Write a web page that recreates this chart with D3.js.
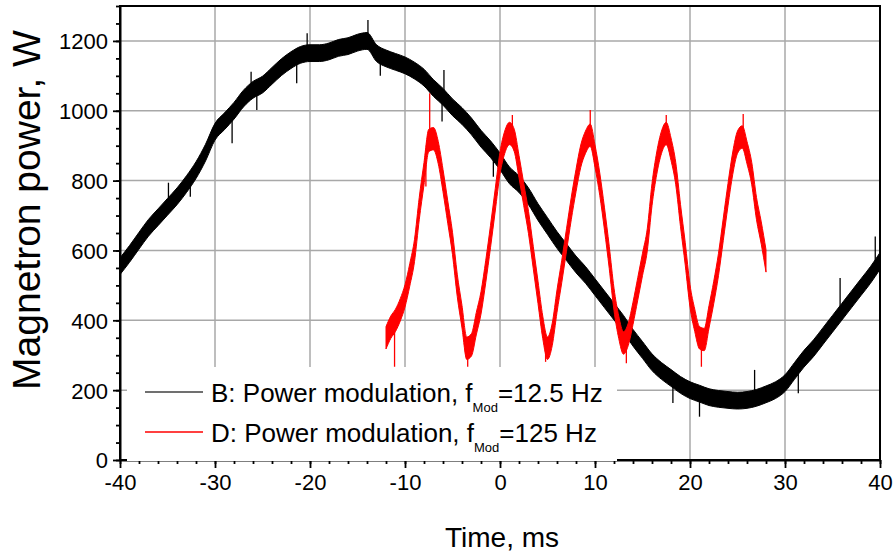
<!DOCTYPE html>
<html lang="en">
<head>
  <meta charset="UTF-8">
  <title></title>
  <style>
    html, body {
      margin: 0;
      overflow: hidden;
      width: 100%;
      height: 100%;
      background: white;
    }
    svg {
      position: absolute;
      top: 0;
      left: 0;
      width: 895px;
      height: 554px;
      font-family: 'Liberation Sans', Arial, sans-serif;
    }
  </style>
</head>
<body>
  <svg></svg>
</body>
<script src="https://cdn.jsdelivr.net/npm/d3@7"></script>
<script type="text/javascript">
  // ---- data ----
  const xTicks = [-40, -30, -20, -10, 0, 10, 20, 30, 40]
  const yTicks = [0, 200, 400, 600, 800, 1000, 1200]

  // B: 12.5 Hz, centre of the noisy trace, one value per ms from -40 ms
  const blackStart = -40, blackStep = 1
  const blackPower = [
    555, 590, 628, 665, 695, 725, 755, 790, 830, 880,
    940, 970, 1000, 1035, 1060, 1075, 1100, 1125, 1145, 1160,
    1165, 1165, 1170, 1180, 1185, 1195, 1200, 1165, 1150, 1140,
    1130, 1115, 1095, 1065, 1040, 1010, 985, 955, 920, 890,
    855, 815, 790, 755, 710, 670, 630, 595, 560, 530,
    495, 460, 425, 390, 350, 315, 280, 255, 235, 215,
    200, 190, 180, 175, 172, 170, 172, 178, 188, 200,
    220, 255, 290, 320, 355, 390, 425, 460, 495, 530,
    570
  ]
  // single spikes sticking out of the band: [ms, W]
  const blackSpikes = [
    [-34.9, 794], [-32.6, 754], [-28.2, 907], [-26.2, 1112], [-25.6, 1002],
    [-21.4, 1079], [-20.3, 1222], [-13.9, 1260], [-12.6, 1100], [-6.1, 969],
    [-5.9, 1117], [-0.7, 811], [18.2, 163], [21.0, 124], [26.8, 258],
    [31.4, 191], [35.8, 521], [39.5, 640]
  ]

  // D: 125 Hz, one value per 0.5 ms from -12 ms
  const redStart = -12, redStep = 0.5
  const redPower = [
    350, 380, 400, 430, 470, 530, 600, 720, 820, 915,
    920, 880, 800, 710, 620, 500, 410, 320, 330, 390,
    450, 540, 640, 745, 850, 910, 935, 915, 840, 760,
    680, 580, 480, 380, 320, 360, 455, 540, 630, 720,
    800, 870, 910, 930, 870, 790, 690, 580, 460, 380,
    335, 360, 420, 490, 560, 630, 760, 850, 910, 935,
    890, 820, 700, 590, 470, 400, 350, 345, 410, 480,
    560, 660, 760, 850, 910, 925, 880, 820, 720, 650,
    570
  ]
  const redSpikes = [
    [-11.1, 267], [-7.8, 783], [-7.4, 1050], [-3.4, 267], [1.3, 988],
    [4.8, 281], [9.5, 1002], [13.3, 277], [17.5, 988], [21.2, 267],
    [25.6, 991]
  ]

  const legendItems = [
    { name: 'B: Power modulation, f', sub: 'Mod', rest: '=12.5 Hz', color: '#707070' },
    { name: 'D: Power modulation, f', sub: 'Mod', rest: '=125 Hz', color: '#ff0000' }
  ]

  // ---- layout ----
  const svg = d3.select('svg')
  const plot = { left: 120, right: 880, top: 6, bottom: 460 }

  const x = d3.scaleLinear().domain([-40, 40]).range([plot.left, plot.right])
  const y = d3.scaleLinear().domain([0, 1300]).range([plot.bottom, plot.top])

  // grid
  const grid = svg.append('g').attr('stroke', '#a8a8a8').attr('stroke-width', 1.5)
  grid.selectAll('.gx')
    .data(xTicks.slice(1, -1))
    .enter()
    .append('line')
    .attr('x1', d => x(d)).attr('x2', d => x(d))
    .attr('y1', plot.top).attr('y2', plot.bottom)
  grid.selectAll('.gy')
    .data(yTicks.slice(1))
    .enter()
    .append('line')
    .attr('x1', plot.left).attr('x2', plot.right)
    .attr('y1', d => y(d)).attr('y2', d => y(d))

  // noisy traces drawn as a band around the centre values
  function drawTrace(values, start, step, spikes, halfWidth, color) {
    const pts = values.map((v, i) => ({ t: start + i * step, v: v }))
    const area = d3.area()
      .x(d => x(d.t))
      .y0(d => y(d.v - halfWidth))
      .y1(d => y(d.v + halfWidth))
      .curve(d3.curveMonotoneX)
    svg.append('path')
      .datum(pts)
      .attr('d', area)
      .attr('fill', color)
      .attr('stroke', color)
      .attr('stroke-width', 1)

    const centre = d3.scaleLinear().domain(pts.map(d => d.t)).range(values)
    svg.append('g')
      .selectAll('line')
      .data(spikes)
      .enter()
      .append('line')
      .attr('x1', d => x(d[0])).attr('x2', d => x(d[0]))
      .attr('y1', d => y(centre(d[0])))
      .attr('y2', d => y(d[1]))
      .attr('stroke', color)
      .attr('stroke-width', 1.3)
  }

  drawTrace(blackPower, blackStart, blackStep, blackSpikes, 24, '#000')
  drawTrace(redPower, redStart, redStep, redSpikes, 32, '#ff0000')

  // frame
  svg.append('rect')
    .attr('x', plot.left).attr('y', plot.top)
    .attr('width', plot.right - plot.left)
    .attr('height', plot.bottom - plot.top)
    .attr('fill', 'none')
    .attr('stroke', '#000')
    .attr('stroke-width', 2)

  // axes
  const xAxis = svg.append('g')
    .attr('transform', 'translate(0,' + plot.bottom + ')')
    .call(d3.axisBottom(x).tickValues(xTicks).tickSize(8).tickSizeOuter(0).tickPadding(6))
  svg.append('g')
    .attr('transform', 'translate(0,' + plot.bottom + ')')
    .call(d3.axisBottom(x).tickValues(d3.range(-40, 41, 2)).tickSize(4).tickFormat(''))
    .call(g => g.select('.domain').remove())
  const yAxis = svg.append('g')
    .attr('transform', 'translate(' + plot.left + ',0)')
    .call(d3.axisLeft(y).tickValues(yTicks).tickSize(7).tickSizeOuter(0).tickPadding(5)
      .tickFormat(d3.format('d')))
  svg.append('g')
    .attr('transform', 'translate(' + plot.left + ',0)')
    .call(d3.axisLeft(y).tickValues(d3.range(0, 1301, 50)).tickSize(4).tickFormat(''))
    .call(g => g.select('.domain').remove())

  svg.selectAll('.tick line').attr('stroke-width', 1.8)
  svg.selectAll('.domain').attr('stroke-width', 2)
  xAxis.selectAll('text')
    .attr('font-size', 22)
    .attr('font-family', 'Liberation Sans, Arial, sans-serif')
    .attr('fill', '#000')
    .text(d => d < 0 ? '-' + (-d) : d)
  yAxis.selectAll('text')
    .attr('font-size', 22)
    .attr('font-family', 'Liberation Sans, Arial, sans-serif')
    .attr('fill', '#000')
    .attr('dy', '0.36em')

  // axis titles
  svg.append('text')
    .attr('x', 502)
    .attr('y', 547)
    .attr('text-anchor', 'middle')
    .attr('font-size', 28)
    .text('Time, ms')
  svg.append('text')
    .attr('transform', 'translate(40,' + 210 + ') rotate(-90)')
    .attr('text-anchor', 'middle')
    .attr('font-size', 39)
    .text('Magnetron power, W')

  // legend (its white box hides the grid and the axis line behind it)
  const legend = svg.append('g')
  legend.append('rect')
    .attr('x', 127).attr('y', 367)
    .attr('width', 490).attr('height', 94)
    .attr('fill', 'white')
  const rows = legend.selectAll('g')
    .data(legendItems)
    .enter()
    .append('g')
    .attr('transform', (d, i) => 'translate(0,' + (392 + i * 40) + ')')
  rows.append('line')
    .attr('x1', 145).attr('x2', 203)
    .attr('stroke', d => d.color)
    .attr('stroke-width', (d, i) => i === 0 ? 2 : 1.5)
  const label = rows.append('text')
    .attr('x', 211)
    .attr('y', 10)
    .attr('font-size', 26)
  label.append('tspan').text(d => d.name)
  label.append('tspan').attr('font-size', 13).attr('dy', 10).text(d => d.sub)
  label.append('tspan').attr('dy', -10).text(d => d.rest)
</script>
</html>
